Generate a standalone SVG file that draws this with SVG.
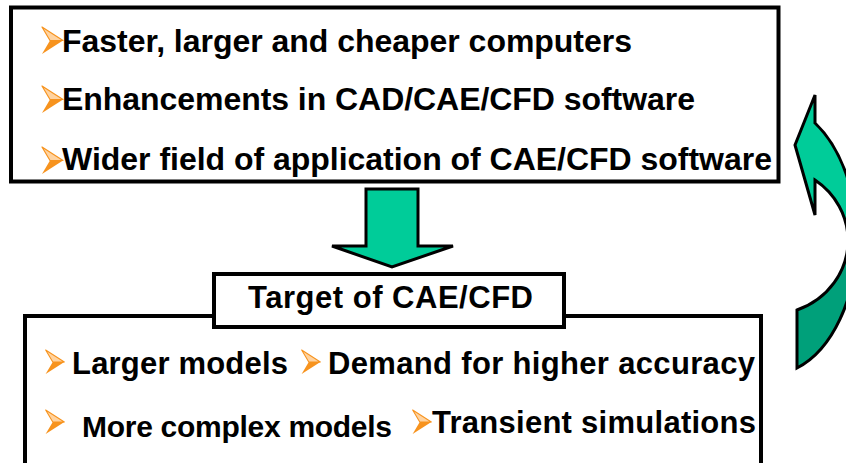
<svg xmlns="http://www.w3.org/2000/svg" xmlns:xlink="http://www.w3.org/1999/xlink" width="846" height="463" viewBox="0 0 846 463">
<style>
  .box { fill: #ffffff; stroke: #000000; stroke-width: 4; }
  .t { font-family: "Liberation Sans", Arial, sans-serif; font-weight: bold; fill: #000000; }
  .t32 { font-size: 32px; }
  .t31 { font-size: 31px; }
  .t30 { font-size: 30px; }
  .arrow { stroke: #000000; stroke-width: 3; stroke-linejoin: miter; }
  .light { fill: #00CC99; }
  .dark { fill: #00A07A; }
</style>
<defs>
  <symbol id="bullet" viewBox="0 0 21 27" overflow="visible">
    <polygon points="0,0 21,13.5 8,13.5" fill="#FFD3A0" stroke="#F7931E" stroke-width="1.2" stroke-linejoin="round"/>
    <polygon points="8,13.5 21,13.5 0,27" fill="#F7931E"/>
  </symbol>
</defs>

<g id="causes">
  <rect class="box" x="11" y="7.5" width="767.5" height="174"/>
  <use xlink:href="#bullet" x="42" y="27" width="21" height="27"/>
  <text class="t t32" x="62" y="52" textLength="570">Faster, larger and cheaper computers</text>
  <use xlink:href="#bullet" x="42" y="86" width="21" height="27"/>
  <text class="t t32" x="62" y="110" textLength="633">Enhancements in CAD/CAE/CFD software</text>
  <use xlink:href="#bullet" x="42" y="147" width="21" height="27"/>
  <text class="t t32" x="62" y="170" textLength="710">Wider field of application of CAE/CFD software</text>
</g>

<g id="requirements">
  <rect class="box" x="25" y="316" width="736" height="200"/>
  <use xlink:href="#bullet" x="45" y="350" width="20" height="24"/>
  <text class="t t31" x="72" y="374" textLength="216">Larger models</text>
  <use xlink:href="#bullet" x="301" y="350" width="20" height="24"/>
  <text class="t t31" x="328" y="374" textLength="427">Demand for higher accuracy</text>
  <use xlink:href="#bullet" x="45" y="410" width="20" height="24"/>
  <text class="t t30" x="82" y="437" textLength="310">More complex models</text>
  <use xlink:href="#bullet" x="412" y="410" width="20" height="24"/>
  <text class="t t31" x="432" y="433" textLength="324">Transient simulations</text>
</g>

<g id="target">
  <rect class="box" x="214" y="274" width="350" height="53"/>
  <text class="t t31" x="248" y="308" textLength="285">Target of CAE/CFD</text>
</g>

<g id="connectors">
  <polygon class="arrow light" points="366,189 418,189 418,246 453,246 392,267 332,246 366,246"/>
  <path class="arrow dark" d="M797,310 A78 74 0 0 0 848,240 L857,240 A87 137 0 0 1 797,368 Z"/>
  <path class="arrow light" d="M815,95 L795,145 L815,215 L815,180 A78 74 0 0 1 848,240 L857,240 A87 137 0 0 0 815,123 Z"/>
</g>
</svg>
